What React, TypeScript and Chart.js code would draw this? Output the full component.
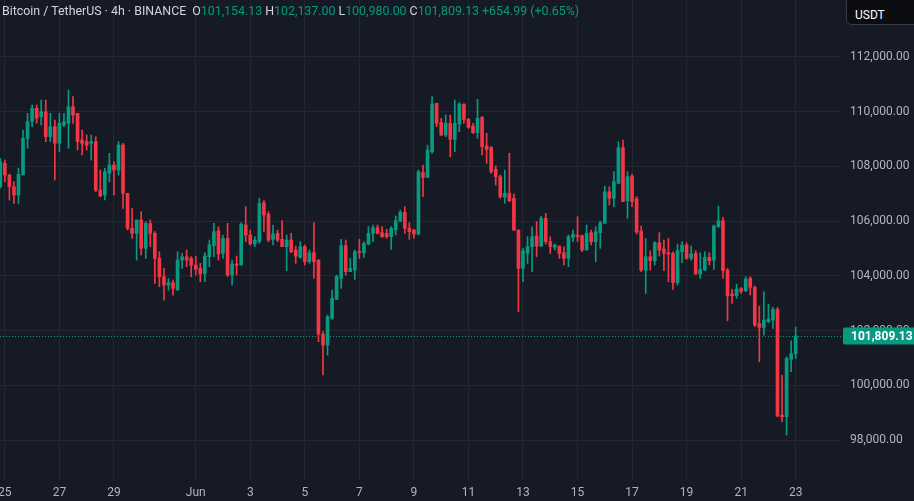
import React, { useEffect, useRef } from "react";
import { Chart, registerables } from "chart.js";

Chart.register(...registerables);

const GREEN = "#089981";
const RED = "#f23645";
const BG = "#161a25";
const GRID = "#232733";
const AXIS_TEXT = "#b2b5be";

const dateTickIndex = [1, 13, 25, 43, 55, 67, 79, 91, 103, 115, 127, 139, 151, 163, 175];
const dateTickLabels = ["25", "27", "29", "Jun", "3", "5", "7", "9", "11", "13", "15", "17", "19", "21", "23"];
const priceTicks = [98000, 100000, 102000, 104000, 106000, 108000, 110000, 112000];

const opens = [
  107256, 108108, 107682, 107256, 106951, 107682, 109020, 109629, 110116, 109811,
  109994, 109081, 109446, 108838, 109507, 109568, 110176, 109933, 108960, 108899,
  108838, 108899, 107134, 106951, 107742, 108047, 107864, 108777, 107012, 105734,
  105552, 106039, 105004, 105917, 105552, 104639, 103970, 103665, 103751, 103483,
  104578, 104700, 104639, 104396, 104275, 104092, 104701, 105103, 105650, 104823,
  105370, 104032, 104433, 104397, 105857, 105492, 105163, 105249, 106672, 106259,
  105334, 105553, 105334, 105066, 105309, 104944, 104677, 105066, 104518, 104847,
  104579, 101877, 101476, 102450, 103143, 103910, 105103, 104153, 104214, 104883,
  104847, 105163, 105553, 105760, 105577, 105553, 105431, 105675, 106003, 106320,
  105735, 105674, 105528, 107767, 107596, 108534, 110298, 109592, 109142, 109568,
  108984, 109544, 110274, 109714, 109471, 109227, 109787, 108740, 108692, 107889,
  107621, 106866, 107012, 106830, 105674, 104274, 104822, 105065, 105455, 105089,
  106100, 105248, 105041, 105089, 104846, 104639, 105406, 105491, 105467, 104944,
  105576, 105248, 105576, 105917, 107073, 106830, 107377, 108680, 106745, 107645,
  106810, 105637, 104213, 104700, 104554, 105211, 104980, 104846, 104822, 103751,
  104882, 105126, 104639, 104822, 104067, 104213, 104676, 104578, 105795, 106014,
  104213, 103337, 103276, 103532, 103458, 103909, 103580, 102266, 102120, 102326,
  102387, 102777, 98919, 98858, 100952, 101154.13,
];

const highs = [
  108290, 108229, 107706, 107438, 107925, 109325, 109933, 110237, 110237, 110420,
  110420, 109933, 109690, 109933, 109933, 110785, 110542, 109933, 109325, 109142,
  109142, 109081, 107864, 107925, 108473, 108168, 108899, 108838, 107012, 106465,
  106039, 106343, 105978, 106039, 105613, 104883, 104274, 103909, 103848, 104883,
  104822, 104943, 104700, 104720, 104458, 104847, 105309, 105918, 105796, 105492,
  105918, 104579, 104725, 105942, 106526, 105675, 105431, 106831, 106745, 106344,
  105857, 105675, 106015, 105492, 105553, 105090, 105249, 105127, 104944, 105942,
  104579, 101963, 102571, 103484, 104032, 105334, 105309, 104640, 104944, 105334,
  105249, 105796, 105857, 105857, 105796, 105699, 105796, 106186, 106405, 106526,
  105942, 105698, 107864, 108047, 108777, 110542, 110298, 109751, 109872, 109872,
  110420, 110323, 110274, 109751, 109568, 110444, 109811, 109203, 108716, 108010,
  107682, 107864, 108473, 106988, 105674, 105004, 105430, 105795, 105978, 106185,
  106282, 105430, 105162, 105089, 105065, 105491, 105674, 106161, 105491, 105856,
  105674, 105795, 106002, 107280, 107255, 107803, 108899, 108960, 107803, 107718,
  106891, 105820, 105369, 104919, 105247, 105576, 105308, 105369, 104882, 105162,
  105247, 105211, 105089, 104919, 104846, 104882, 104846, 105856, 106550, 106136,
  104274, 103507, 103702, 103580, 103970, 103970, 103629, 102899, 103422, 102972,
  102850, 102850, 100380, 101049, 101633, 102137.0,
];

const lows = [
  107200, 107438, 106769, 106647, 106647, 107682, 108655, 109446, 109568, 109507,
  108899, 108899, 107499, 108534, 109446, 108655, 109568, 108594, 108412, 108594,
  108229, 107073, 106891, 106769, 107438, 106951, 107682, 106465, 105674, 105369,
  104578, 104761, 104639, 105065, 103726, 103605, 103118, 103483, 103300, 103483,
  104274, 104335, 103970, 104030, 103788, 103788, 104336, 104701, 104579, 104640,
  103971, 103667, 104032, 104397, 105249, 105127, 105066, 105188, 105614, 105249,
  105127, 105249, 105066, 104190, 104847, 104458, 104640, 104397, 104458, 103910,
  101598, 100381, 101111, 102413, 103143, 103545, 104032, 104153, 103873, 104640,
  104677, 105127, 105249, 105528, 105407, 105370, 104969, 105492, 105979, 105553,
  105334, 105369, 105491, 106891, 107596, 108473, 109446, 109118, 109082, 108351,
  108534, 109264, 109568, 109385, 109203, 109020, 108412, 108108, 107743, 107316,
  106830, 106647, 106708, 105649, 102692, 103787, 104457, 104153, 104700, 105065,
  105162, 104822, 104944, 104639, 104396, 104335, 105248, 105248, 104883, 104944,
  105126, 104517, 105004, 105917, 106586, 106526, 107377, 106708, 106100, 106526,
  105528, 104152, 103361, 104213, 104396, 104724, 104189, 103787, 103507, 103666,
  104481, 104602, 104578, 104067, 103909, 104189, 104396, 104237, 105771, 103909,
  102363, 102996, 103179, 103361, 103422, 103300, 102144, 100866, 101840, 102290,
  102083, 98858, 98675, 98189, 100501, 100980.0,
];

const closes = [
  108168, 107682, 107256, 106951, 107706, 109020, 109629, 110116, 109750, 109994,
  109081, 109446, 108838, 109568, 109629, 110176, 109872, 108899, 108838, 108777,
  108899, 107134, 106915, 107803, 108047, 107864, 108777, 107012, 105734, 105552,
  106039, 105004, 105917, 105552, 104639, 103970, 103665, 103751, 103544, 104578,
  104700, 104578, 104396, 104238, 104068, 104725, 105127, 105614, 104798, 105370,
  104032, 104433, 104385, 105881, 105492, 105163, 105309, 106648, 106222, 105309,
  105528, 105309, 105066, 105309, 104883, 104725, 105066, 104518, 104847, 104518,
  101877, 101476, 102510, 103180, 103971, 105103, 104153, 104275, 104883, 104847,
  105188, 105553, 105760, 105553, 105431, 105431, 105735, 106015, 106320, 105735,
  105614, 105528, 107803, 107596, 108595, 110274, 109568, 109142, 109568, 108984,
  109568, 110274, 109714, 109422, 109227, 109751, 108716, 108619, 107803, 107621,
  106891, 107012, 106745, 105674, 104274, 104919, 105065, 105430, 105089, 106100,
  105248, 105065, 105126, 104822, 104639, 105430, 105515, 105430, 104944, 105552,
  105248, 105613, 105941, 107073, 106830, 107438, 108680, 106708, 107621, 106708,
  105600, 104213, 104700, 104554, 105211, 104943, 104822, 104797, 103751, 104919,
  105126, 104639, 104797, 104067, 104237, 104676, 104554, 105820, 106014, 104189,
  103276, 103276, 103519, 103434, 103885, 103580, 102205, 102120, 102387, 102424,
  102777, 98883, 98858, 100988, 101154.14, 101809.13,
];

const fmt = (v: number) =>
  v.toLocaleString("en-US", { minimumFractionDigits: 2, maximumFractionDigits: 2 });

const lastIdx = closes.length - 1;
const lastOpen = opens[lastIdx];
const lastHigh = highs[lastIdx];
const lastLow = lows[lastIdx];
const lastClose = closes[lastIdx];
const change = lastClose - closes[lastIdx - 1];
const changePct = (change / closes[lastIdx - 1]) * 100;

const candleColors = closes.map((c, i) => (c >= opens[i] ? GREEN : RED));

const noPadding = (scale: any) => {
  scale.paddingLeft = 0;
  scale.paddingRight = 0;
  scale.paddingTop = 0;
  scale.paddingBottom = 0;
};

const lastPricePlugin = {
  id: "lastPrice",
  beforeDatasetsDraw(chart: any) {
    const { ctx, chartArea, scales } = chart;
    const y = Math.round(scales.y.getPixelForValue(lastClose)) + 0.5;
    ctx.save();
    ctx.strokeStyle = GREEN;
    ctx.lineWidth = 1;
    ctx.setLineDash([1, 2]);
    ctx.beginPath();
    ctx.moveTo(chartArea.left, y);
    ctx.lineTo(chartArea.right, y);
    ctx.stroke();
    ctx.restore();
  },
  afterDraw(chart: any) {
    const { ctx, chartArea, scales } = chart;
    const y = Math.round(scales.y.getPixelForValue(lastClose));
    const x0 = chartArea.right + 1;
    const w = chart.width - x0;
    const h = 17;
    ctx.save();
    ctx.fillStyle = GREEN;
    ctx.beginPath();
    ctx.roundRect(x0, y - h / 2, w + 4, h, 2);
    ctx.fill();
    ctx.fillStyle = "#ffffff";
    ctx.font = "bold 12px Roboto";
    ctx.textBaseline = "middle";
    ctx.textAlign = "left";
    ctx.fillText(fmt(lastClose), chartArea.right + 9, y + 0.5);
    ctx.restore();
  },
};

export default function App() {
  const canvasRef = useRef<HTMLCanvasElement | null>(null);

  useEffect(() => {
    if (!canvasRef.current) return;
    Chart.defaults.font.family = "Roboto";
    const wickData = opens.map((_, i) => ({ x: i, y: [lows[i], highs[i]] }));
    const bodyData = opens.map((o, i) => ({ x: i, y: [o, closes[i]] }));
    const chart = new Chart(canvasRef.current, {
      type: "bar",
      data: {
        datasets: [
          {
            label: "wick",
            data: wickData as any,
            backgroundColor: candleColors,
            borderWidth: 0,
            barThickness: 1,
            grouped: false,
            order: 2,
          } as any,
          {
            label: "body",
            data: bodyData as any,
            backgroundColor: candleColors,
            borderWidth: 0,
            barThickness: 3,
            minBarLength: 1,
            grouped: false,
            order: 1,
          } as any,
        ],
      },
      options: {
        animation: false,
        responsive: false,
        maintainAspectRatio: false,
        layout: { padding: 0 },
        plugins: {
          legend: { display: false },
          tooltip: { enabled: false },
        },
        scales: {
          x: {
            type: "linear",
            min: -0.066,
            max: 185.19,
            offset: false,
            grid: { color: GRID, drawTicks: false, offset: false, lineWidth: 1 },
            border: { display: false },
            afterBuildTicks: (scale: any) => {
              scale.ticks = dateTickIndex.map((v) => ({ value: v }));
            },
            afterFit: (scale: any) => {
              scale.height = 21;
              noPadding(scale);
            },
            ticks: {
              autoSkip: false,
              maxRotation: 0,
              padding: 6,
              color: AXIS_TEXT,
              font: { size: 12, family: "Roboto" },
              callback: (_v: any, i: number) => dateTickLabels[i],
            },
          },
          y: {
            type: "linear",
            position: "right",
            min: 96550,
            max: 114070,
            beginAtZero: false,
            grid: { color: GRID, drawTicks: false, lineWidth: 1 },
            border: { display: false },
            afterBuildTicks: (scale: any) => {
              scale.ticks = priceTicks.map((v) => ({ value: v }));
            },
            afterFit: (scale: any) => {
              scale.width = 72;
              noPadding(scale);
            },
            ticks: {
              padding: 8,
              color: AXIS_TEXT,
              font: { size: 12, family: "Roboto" },
              callback: (v: any) => fmt(Number(v)),
            },
          },
        },
      } as any,
      plugins: [lastPricePlugin],
    });
    return () => chart.destroy();
  }, []);

  const green = { color: GREEN };
  const firstGap = { marginLeft: 6 };
  const gap = { marginLeft: 3 };

  return (
    <div
      style={{
        position: "fixed",
        left: 0,
        top: 0,
        width: 914,
        height: 501,
        background: BG,
        overflow: "hidden",
      }}
    >
      <canvas ref={canvasRef} width={914} height={501} style={{ position: "absolute", left: 0, top: 0 }} />
      <div
        style={{
          position: "absolute",
          left: 2,
          top: 3,
          font: "12.4px Roboto",
          lineHeight: "15px",
          color: "#d1d4dc",
          whiteSpace: "nowrap",
        }}
      >
        <span>Bitcoin / TetherUS · 4h · BINANCE</span>
        <span style={firstGap}>
          O<span style={green}>{fmt(lastOpen)}</span>
        </span>
        <span style={gap}>
          H<span style={green}>{fmt(lastHigh)}</span>
        </span>
        <span style={gap}>
          L<span style={green}>{fmt(lastLow)}</span>
        </span>
        <span style={gap}>
          C<span style={green}>{fmt(lastClose)}</span>
        </span>
        <span style={{ ...gap, ...green }}>
          {(change >= 0 ? "+" : "") + fmt(change)} ({(changePct >= 0 ? "+" : "") + changePct.toFixed(2)}%)
        </span>
      </div>
      <div
        style={{
          position: "absolute",
          left: 846,
          top: -5,
          width: 76,
          height: 30,
          background: "#0c0d10",
          border: "1px solid #3a3d47",
          borderRadius: 6,
          boxSizing: "border-box",
          color: "#ffffff",
          font: "12px Roboto",
          lineHeight: "12px",
        }}
      >
        <span style={{ position: "absolute", left: 8, top: 13 }}>USDT</span>
      </div>
    </div>
  );
}
